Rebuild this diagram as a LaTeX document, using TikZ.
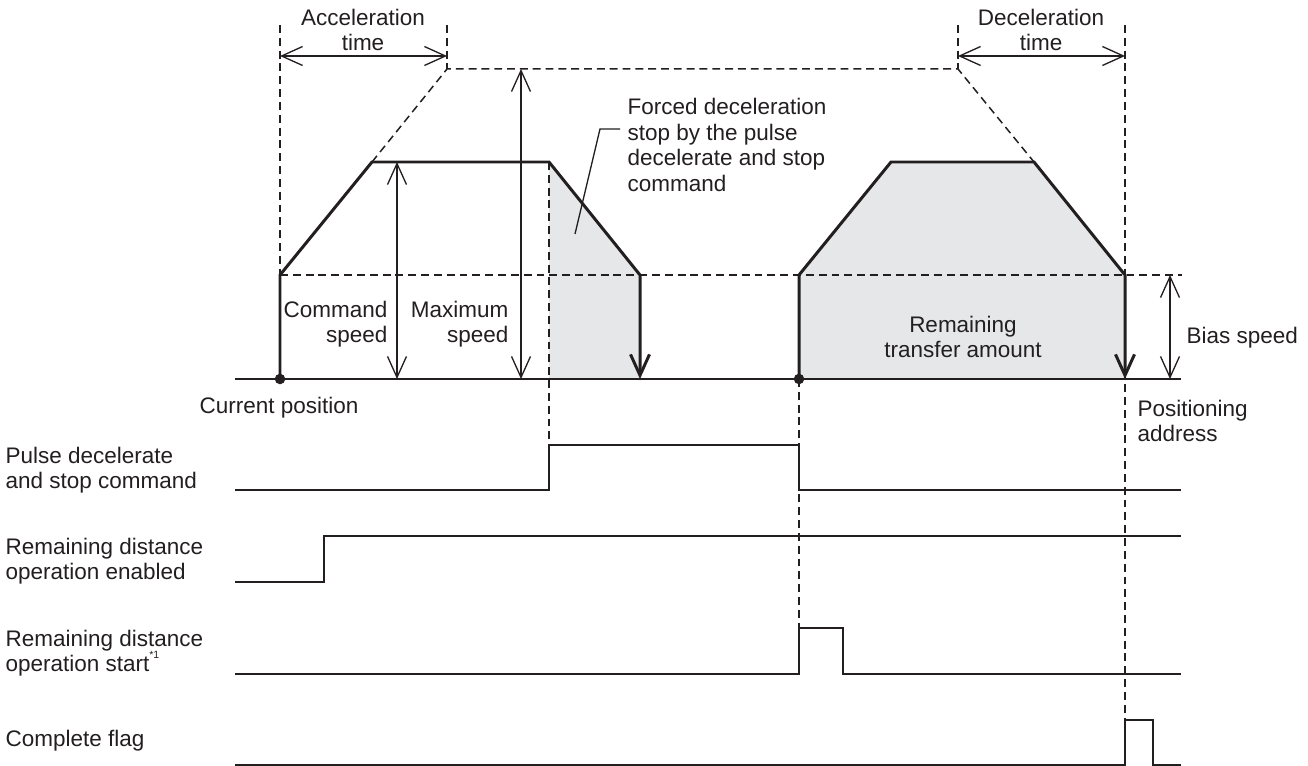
\documentclass[tikz,border=0pt]{standalone}
\usepackage{fontspec}
\setmainfont{Liberation Sans}
\usetikzlibrary{arrows.meta}
\definecolor{ink}{HTML}{231F20}
\definecolor{areagray}{HTML}{E6E7E8}

\begin{document}
\begin{tikzpicture}[
  x=0.02cm, y=-0.02cm,
  >={Straight Barb[length=4.2mm, width=3.8mm]},
  line width=0.7pt,
  profile/.style={ink, line width=1.7pt, line join=miter},
  guide/.style={ink, line width=0.85pt, dash pattern=on 4.5pt off 2.8pt},
  signal/.style={ink, line width=0.85pt},
  dim/.style={ink, line width=0.75pt, <->},
  lbl/.style={text=ink, font=\fontsize{12.8}{14.5}\selectfont, inner sep=0pt}
]

% Frame of the picture
\useasboundingbox (0,0) rectangle (1308,766);

% ── Key coordinates ──
% First run: stopped early by the decelerate-and-stop command
\coordinate (start) at (280,379);
\coordinate (biasA) at (280,275);
\coordinate (cruiseA) at (372,162);
\coordinate (brakeA) at (549,162);
\coordinate (biasB) at (640,275);
\coordinate (stopA) at (640,379);
% Second run: remaining distance up to the positioning address
\coordinate (restart) at (799,379);
\coordinate (biasC) at (799,275);
\coordinate (cruiseB) at (891,162);
\coordinate (brakeB) at (1034,162);
\coordinate (biasD) at (1125,275);
\coordinate (target) at (1125,379);
% Maximum speed level (dashed projection)
\coordinate (maxA) at (447,69);
\coordinate (maxB) at (958,69);

% ── Shaded travel areas ──
\fill[areagray] (brakeA) -- (biasB) -- (stopA) -- (brakeA |- stopA) -- cycle;
\fill[areagray] (restart) -- (biasC) -- (cruiseB) -- (brakeB) -- (biasD) -- (target) -- cycle;

% ── Dashed guides ──
\draw[guide] (280,25) -- (biasA);
\draw[guide] (447,25) -- (maxA);
\draw[guide] (cruiseA) -- (maxA) -- (maxB) -- (brakeB);
\draw[guide] (958,25) -- (maxB);
\draw[guide] (1125,25) -- (1125,720);
\draw[guide] (brakeA) -- (549,445);
\draw[guide] (restart) -- (799,628);
\draw[guide] (biasA) -- (1182,275);

% ── Speed axis ──
\draw[ink, line width=1pt] (235,379) -- (1181,379);

% ── Speed profiles ──
\draw[profile, ->] (start) -- (biasA) -- (cruiseA) -- (brakeA) -- (biasB) -- (stopA);
\draw[profile, ->] (restart) -- (biasC) -- (cruiseB) -- (brakeB) -- (biasD) -- (target);

% ── Dimension arrows ──
\draw[dim] (280,56) -- (447,56);
\draw[dim] (958,56) -- (1125,56);
\draw[dim] (397,162) -- (397,379);
\draw[dim] (521,69) -- (521,379);
\draw[dim] (1170,275) -- (1170,379);

% ── Position dots ──
\fill[ink] (start) circle (3pt);
\fill[ink] (restart) circle (3pt);

% ── Leader to the forced stop note ──
\draw[ink, line width=0.75pt] (620,129) -- (600,129) -- (575,234);

% ── Labels on the speed chart ──
\node[lbl, align=center] (accel) at (363,30) {Acceleration\\time};
\node[lbl, align=center] (decel) at (1041,30) {Deceleration\\time};
\node[lbl, align=left, anchor=west] (forced) at (627,145)
  {Forced deceleration\\stop by the pulse\\decelerate and stop\\command};
\node[lbl, align=right, anchor=east] (cmdspd) at (388,324) {Command\\speed};
\node[lbl, align=right, anchor=east] (maxspd) at (509,324) {Maximum\\speed};
\node[lbl, align=center] (remain) at (963,337) {Remaining\\transfer amount};
\node[lbl, anchor=west] (bias) at (1186,338) {Bias speed};
\node[lbl] (curpos) at (279,408) {Current position};
\node[lbl, align=left, anchor=west] (posaddr) at (1137,421) {Positioning\\address};

% ── Timing signals ──
\draw[signal] (235,490) -- (549,490) -- (549,445) -- (799,445) -- (799,490) -- (1181,490);
\draw[signal] (235,582) -- (324,582) -- (324,536) -- (1181,536);
\draw[signal] (235,674) -- (799,674) -- (799,628) -- (843,628) -- (843,674) -- (1181,674);
\draw[signal] (235,765) -- (1125,765) -- (1125,720) -- (1153,720) -- (1153,765) -- (1181,765);

% ── Signal names ──
\node[lbl, align=left, anchor=west] (sigstop) at (5,470) {Pulse decelerate\\and stop command};
\node[lbl, align=left, anchor=west] (sigenable) at (5,561) {Remaining distance\\operation enabled};
\node[lbl, align=left, anchor=west] (sigstart) at (5,653)
  {Remaining distance\\operation start\raisebox{1.1ex}{\fontsize{6}{6}\selectfont *1}};
\node[lbl, anchor=west] (sigdone) at (5,741) {Complete flag};

\end{tikzpicture}
\end{document}
